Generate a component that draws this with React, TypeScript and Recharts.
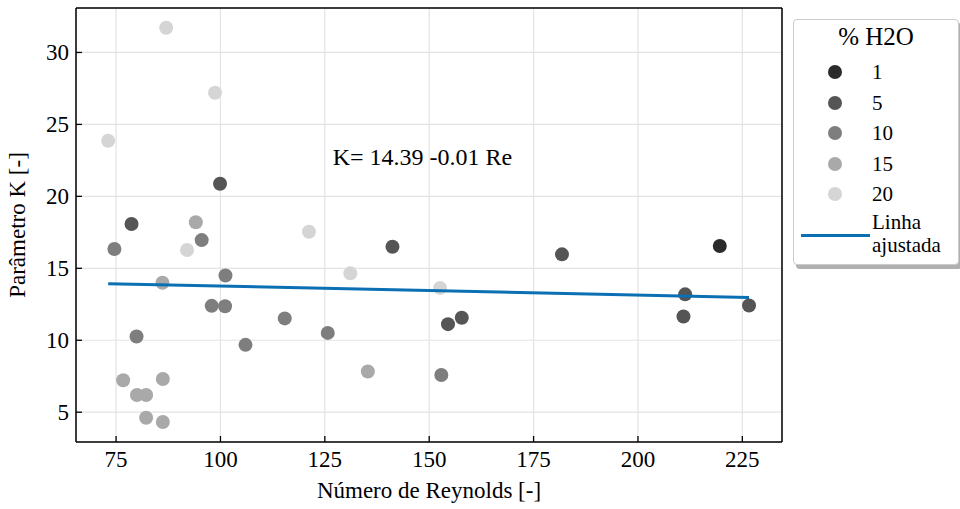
import {
  ScatterChart,
  Scatter,
  XAxis,
  YAxis,
  CartesianGrid,
  ReferenceDot,
} from "recharts";

// % H2O groups
const groups = ["1", "5", "10", "15", "20"];
const groupColors = ["#2b2b2b", "#555555", "#7e7e7e", "#a9a9a9", "#d5d5d5"];

// Reynolds number / K for each group
const re1 = [219.6];
const k1 = [16.55];

const re5 = [78.7, 99.9, 141.2, 154.5, 157.8, 181.8, 211.3, 210.9, 226.6];
const k5 = [18.08, 20.88, 16.5, 11.12, 11.56, 15.97, 13.19, 11.65, 12.42];

const re10 = [74.6, 79.9, 95.5, 101.2, 97.9, 101.1, 106.0, 115.4, 125.7, 152.9];
const k10 = [16.34, 10.26, 16.96, 14.5, 12.39, 12.36, 9.68, 11.52, 10.51, 7.59];

const re15 = [94.1, 86.1, 76.7, 80.0, 82.2, 86.2, 82.2, 86.2, 135.3];
const k15 = [18.2, 14.0, 7.22, 6.2, 6.2, 7.31, 4.62, 4.32, 7.83];

const re20 = [73.1, 87.0, 98.7, 92.0, 121.2, 131.1, 152.6];
const k20 = [23.86, 31.72, 27.2, 16.27, 17.54, 14.65, 13.64];

// fitted line, end points
const fitRe = [73.1, 226.6];
const fitK = [13.93, 12.98];

const xTicks = [75, 100, 125, 150, 175, 200, 225];
const yTicks = [5, 10, 15, 20, 25, 30];

const toPoints = (xs: number[], ys: number[]) =>
  xs.map((x, i) => ({ re: x, k: ys[i] }));

const groupData = [
  toPoints(re1, k1),
  toPoints(re5, k5),
  toPoints(re10, k10),
  toPoints(re15, k15),
  toPoints(re20, k20),
];
const fitData = toPoints(fitRe, fitK);

const FONT = "Liberation Serif";
const lineColor = "#0b6fb4";
const xDomain = [65.4, 234.5];
const yDomain = [2.93, 33.09];

const txt = (size: number) => ({ fontFamily: FONT, fontSize: size });

const BottomTick = (props: any) => {
  const { x, y, payload } = props;
  return (
    <g>
      <line x1={x} y1={y} x2={x} y2={y - 6} stroke="#000" strokeWidth={1.3} />
      <text x={x} y={y + 25} textAnchor="middle" style={txt(23)} fill="#000">
        {payload.value}
      </text>
    </g>
  );
};

const LeftTick = (props: any) => {
  const { x, y, payload } = props;
  return (
    <g>
      <line x1={x} y1={y} x2={x + 6} y2={y} stroke="#000" strokeWidth={1.3} />
      <text x={x - 7} y={y + 8} textAnchor="end" style={txt(23)} fill="#000">
        {payload.value}
      </text>
    </g>
  );
};

const TopTick = (props: any) => {
  const { x, y } = props;
  return <line x1={x} y1={y} x2={x} y2={y + 7} stroke="#000" strokeWidth={1.3} />;
};

const RightTick = (props: any) => {
  const { x, y } = props;
  return <line x1={x} y1={y} x2={x - 6} y2={y} stroke="#000" strokeWidth={1.3} />;
};

const Dot = (props: any) => <circle cx={props.cx} cy={props.cy} r={7} fill={props.fill} />;

const XLabel = (props: any) => {
  const { viewBox } = props;
  return (
    <text x={viewBox.x + viewBox.width / 2} y={493} textAnchor="middle" dominantBaseline="middle" style={txt(23)} fill="#000">
      Número de Reynolds [-]
    </text>
  );
};

const YLabel = (props: any) => {
  const { viewBox } = props;
  const cy = viewBox.y + viewBox.height / 2;
  return (
    <text
      x={20}
      y={cy}
      transform={`rotate(-90, 20, ${cy})`}
      textAnchor="middle"
      dominantBaseline="middle"
      style={txt(23)}
      fill="#000"
    >
      Parâmetro K [-]
    </text>
  );
};

const NoteLabel = (props: any) => {
  const { viewBox } = props;
  return (
    <text x={viewBox.x} y={viewBox.y} dominantBaseline="middle" style={txt(24)} fill="#000">
      K= 14.39 -0.01 Re
    </text>
  );
};

const LegendBox = () => (
  <div
    style={{
      position: "absolute",
      left: 793,
      top: 19,
      width: 164,
      height: 244,
      border: "1px solid #cccccc",
      borderRadius: 4,
      background: "#fff",
      boxShadow: "3px 4px 0 #b0b0b0",
      fontFamily: FONT,
      color: "#000",
    }}
  >
    <div style={{ position: "absolute", left: 0, width: 164, top: 3, textAlign: "center", fontSize: 25 }}>
      % H2O
    </div>
    {groups.map((g, i) => (
      <div key={g} style={{ position: "absolute", top: 42 + i * 30.5, left: 0, height: 20 }}>
        <div
          style={{
            position: "absolute",
            left: 34,
            top: 3,
            width: 14,
            height: 14,
            borderRadius: 7,
            background: groupColors[i],
          }}
        />
        <div style={{ position: "absolute", left: 78, top: -2, fontSize: 21 }}>{g}</div>
      </div>
    ))}
    <div style={{ position: "absolute", left: 7, top: 214, width: 69, height: 3, background: lineColor }} />
    <div style={{ position: "absolute", left: 78, top: 191, fontSize: 21, lineHeight: "23px" }}>
      Linha
      <br />
      ajustada
    </div>
  </div>
);

export default function App() {
  return (
    <div style={{ position: "absolute", left: 0, top: 0, width: 960, height: 509, fontFamily: FONT }}>
      <ScatterChart width={960} height={509} margin={{ top: 7, right: 177, left: 0, bottom: 0 }}>
        <CartesianGrid stroke="#e3e3e3" strokeWidth={1.2} />
        <XAxis
          dataKey="re"
          type="number"
          domain={xDomain}
          ticks={xTicks}
          height={67}
          tickSize={0}
          tickMargin={0}
          tickLine={false}
          tick={<BottomTick />}
          axisLine={{ stroke: "#000", strokeWidth: 1.5 }}
          label={<XLabel />}
        />
        <XAxis
          xAxisId="top"
          orientation="top"
          type="number"
          domain={xDomain}
          ticks={xTicks}
          height={1}
          tickSize={0}
          tickMargin={0}
          tickLine={false}
          tick={<TopTick />}
          axisLine={{ stroke: "#000", strokeWidth: 1.5 }}
        />
        <YAxis
          dataKey="k"
          type="number"
          domain={yDomain}
          ticks={yTicks}
          width={76}
          tickSize={0}
          tickMargin={0}
          tickLine={false}
          tick={<LeftTick />}
          axisLine={{ stroke: "#000", strokeWidth: 1.5 }}
          label={<YLabel />}
        />
        <YAxis
          yAxisId="right"
          orientation="right"
          type="number"
          domain={yDomain}
          ticks={yTicks}
          width={1}
          tickSize={0}
          tickMargin={0}
          tickLine={false}
          tick={<RightTick />}
          axisLine={{ stroke: "#000", strokeWidth: 1.5 }}
        />
        {groupData.map((d, i) => (
          <Scatter
            key={groups[i]}
            name={groups[i]}
            data={d}
            fill={groupColors[i]}
            shape={<Dot />}
            isAnimationActive={false}
          />
        ))}
        <Scatter
          name="Linha ajustada"
          data={fitData}
          line={{ stroke: lineColor, strokeWidth: 3 }}
          lineType="joint"
          shape={() => <g />}
          isAnimationActive={false}
        />
        <ReferenceDot
          x={126.9}
          y={22.53}
          r={0}
          fill="none"
          stroke="none"
          label={<NoteLabel />}
        />
      </ScatterChart>
      <LegendBox />
    </div>
  );
}
